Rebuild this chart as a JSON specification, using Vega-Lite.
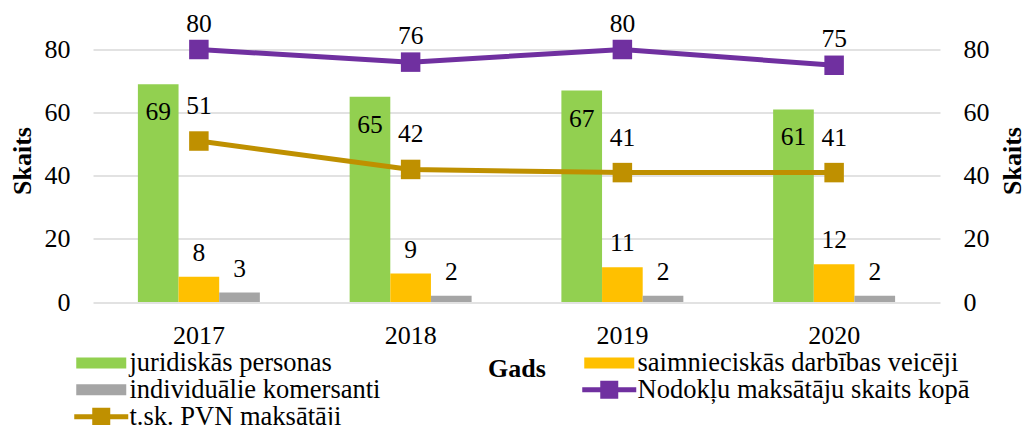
{
  "$schema": "https://vega.github.io/schema/vega-lite/v6.json",
  "autosize": {"type": "none"},
  "width": 847,
  "height": 252.5,
  "padding": {"left": 93, "top": 49.5, "right": 85, "bottom": 123},
  "background": "white",
  "config": {
    "font": "Liberation Serif",
    "view": {"stroke": null},
    "axis": {"labelColor": "black", "titleColor": "black", "labelFont": "Liberation Serif", "titleFont": "Liberation Serif"}
  },
  "datasets": {
    "bars": [
      {"year": "2017", "series": "juridiskās personas", "value": 69},
      {"year": "2017", "series": "saimnieciskās darbības veicēji", "value": 8},
      {"year": "2017", "series": "individuālie komersanti", "value": 3},
      {"year": "2018", "series": "juridiskās personas", "value": 65},
      {"year": "2018", "series": "saimnieciskās darbības veicēji", "value": 9},
      {"year": "2018", "series": "individuālie komersanti", "value": 2},
      {"year": "2019", "series": "juridiskās personas", "value": 67},
      {"year": "2019", "series": "saimnieciskās darbības veicēji", "value": 11},
      {"year": "2019", "series": "individuālie komersanti", "value": 2},
      {"year": "2020", "series": "juridiskās personas", "value": 61},
      {"year": "2020", "series": "saimnieciskās darbības veicēji", "value": 12},
      {"year": "2020", "series": "individuālie komersanti", "value": 2}
    ],
    "lines": [
      {"year": "2017", "series": "Nodokļu maksātāju skaits kopā", "value": 80},
      {"year": "2018", "series": "Nodokļu maksātāju skaits kopā", "value": 76},
      {"year": "2019", "series": "Nodokļu maksātāju skaits kopā", "value": 80},
      {"year": "2020", "series": "Nodokļu maksātāju skaits kopā", "value": 75},
      {"year": "2017", "series": "t.sk. PVN maksātāji", "value": 51},
      {"year": "2018", "series": "t.sk. PVN maksātāji", "value": 42},
      {"year": "2019", "series": "t.sk. PVN maksātāji", "value": 41},
      {"year": "2020", "series": "t.sk. PVN maksātāji", "value": 41}
    ]
  },
  "layer": [
    {
      "data": {"name": "bars"},
      "encoding": {
        "x": {
          "field": "year", "type": "nominal", "title": "Gads",
          "scale": {"paddingInner": 0.424, "paddingOuter": 0.212},
          "axis": {"labelAngle": 0, "domain": false, "ticks": false, "labelPadding": 20, "labelFontSize": 26, "titleFontSize": 26, "titleFontWeight": "bold", "titlePadding": 7}
        },
        "xOffset": {
          "field": "series", "type": "nominal",
          "scale": {"domain": ["juridiskās personas", "saimnieciskās darbības veicēji", "individuālie komersanti"], "paddingInner": 0, "paddingOuter": 0}
        },
        "y": {
          "field": "value", "type": "quantitative",
          "scale": {"domain": [0, 80], "nice": false},
          "axis": {"values": [0, 20, 40, 60, 80], "grid": true, "gridColor": "#D9D9D9", "gridWidth": 1.3, "domain": false, "ticks": false, "labelPadding": 23, "labelFontSize": 26, "title": "Skaits", "titleFontSize": 26, "titleFontWeight": "bold", "titleAngle": -90, "titleBaseline": "middle", "titleAlign": "center", "titleX": -71, "titleY": 111}
        }
      },
      "layer": [
        {
          "mark": {"type": "bar"},
          "encoding": {
            "color": {
              "field": "series", "type": "nominal",
              "scale": {
                "domain": ["juridiskās personas", "saimnieciskās darbības veicēji", "individuālie komersanti", "Nodokļu maksātāju skaits kopā", "t.sk. PVN maksātāji"],
                "range": ["#92D050", "#FFC000", "#A5A5A5", "#7030A0", "#BF9000"]
              },
              "legend": {
                "title": null,
                "orient": "none",
                "direction": "horizontal",
                "legendX": -5,
                "legendY": 300,
                "columns": 2,
                "columnPadding": 201,
                "rowPadding": -1,
                "padding": 0,
                "symbolSize": 100,
                "symbolStrokeWidth": 0,
                "symbolOpacity": 1,
                "labelFont": "Liberation Serif",
                "labelFontSize": 26.5,
                "labelColor": "black",
                "labelOffset": 15,
                "labelLimit": 600,
                "encode": {
                  "symbols": {
                    "update": {
                      "shape": {"signal": "(datum.value === 'Nodokļu maksātāju skaits kopā' || datum.value === 't.sk. PVN maksātāji') ? 'M-5.4,-0.5H5.4V0.5H-5.4Z M-1.8,-1.8H1.8V1.8H-1.8Z' : 'M-5,-1.1H5V1.1H-5Z'"},
                      "fill": {"signal": "scale('color', datum.value)"},
                      "stroke": {"value": "transparent"},
                      "opacity": {"value": 1}
                    }
                  }
                }
              }
            }
          }
        },
        {
          "transform": [{"filter": "datum.series === 'juridiskās personas'"}],
          "mark": {"type": "text", "font": "Liberation Serif", "fontSize": 25.5, "color": "black", "baseline": "middle", "dy": 28},
          "encoding": {"text": {"field": "value", "type": "quantitative"}}
        },
        {
          "transform": [{"filter": "datum.series !== 'juridiskās personas'"}],
          "mark": {"type": "text", "font": "Liberation Serif", "fontSize": 25.5, "color": "black", "baseline": "middle", "dy": -24},
          "encoding": {"text": {"field": "value", "type": "quantitative"}}
        }
      ]
    },
    {
      "data": {"name": "lines"},
      "encoding": {
        "x": {"field": "year", "type": "nominal"},
        "y": {
          "field": "value", "type": "quantitative",
          "scale": {"domain": [0, 80], "nice": false},
          "axis": {"orient": "right", "values": [0, 20, 40, 60, 80], "grid": false, "domain": false, "ticks": false, "labelPadding": 23, "labelFontSize": 26, "title": "Skaits", "titleFontSize": 26, "titleFontWeight": "bold", "titleAngle": -90, "titleBaseline": "middle", "titleAlign": "center", "titleX": 72, "titleY": 111}
        },
        "color": {"field": "series", "type": "nominal"}
      },
      "layer": [
        {"mark": {"type": "line", "strokeWidth": 5}},
        {"mark": {"type": "point", "shape": "square", "filled": true, "size": 380, "opacity": 1}},
        {
          "transform": [{"filter": "datum.series === 'Nodokļu maksātāju skaits kopā'"}],
          "mark": {"type": "text", "font": "Liberation Serif", "fontSize": 25.5, "color": "black", "baseline": "middle", "dy": -26},
          "encoding": {"text": {"field": "value", "type": "quantitative"}, "color": {"value": "black"}}
        },
        {
          "transform": [{"filter": "datum.series === 't.sk. PVN maksātāji'"}],
          "mark": {"type": "text", "font": "Liberation Serif", "fontSize": 25.5, "color": "black", "baseline": "middle", "dy": -35},
          "encoding": {"text": {"field": "value", "type": "quantitative"}, "color": {"value": "black"}}
        }
      ]
    }
  ],
  "resolve": {"scale": {"y": "independent"}}
}
